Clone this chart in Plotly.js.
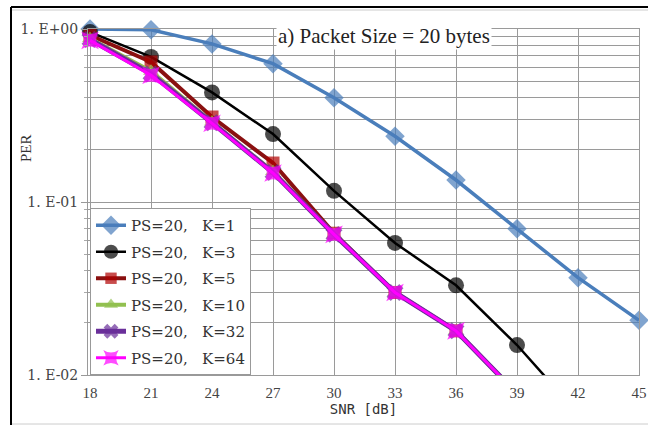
<!DOCTYPE html>
<html><head><meta charset="utf-8">
<script src="https://cdn.plot.ly/plotly-3.0.1.min.js"></script>
<style>html,body{margin:0;padding:0;background:#fff;}#chart{width:648px;height:425px;}</style>
</head><body><div id="chart"></div>
<script>
const snr = [18,21,24,27,30,33,36,39,42,45];
const perK1 = [1.0,0.99,0.82,0.63,0.40,0.24,0.134,0.070,0.0365,0.0207];
const perK3 = [0.96,0.69,0.43,0.247,0.116,0.058,0.033,0.0149,0.006];
const perK5 = [0.92,0.645,0.31,0.168,0.066,0.030,0.018,0.0078];
const perK10 = [0.88,0.57,0.29,0.15,0.065,0.030,0.018,0.0078];
const perK32 = [0.87,0.55,0.287,0.148,0.065,0.030,0.018,0.0078];
const perK64 = [0.86,0.54,0.285,0.147,0.065,0.030,0.018,0.0078];
const names = ["PS=20,\u00a0\u00a0 K=1","PS=20,\u00a0\u00a0 K=3","PS=20,\u00a0\u00a0 K=5","PS=20,\u00a0\u00a0 K=10","PS=20,\u00a0\u00a0 K=32","PS=20,\u00a0\u00a0 K=64"];
const yTickVals = [0.01,0.1,1];
const yTickText = ["1. E-02","1. E-01","1. E+00"];
const xTickVals = [18,21,24,27,30,33,36,39,42,45];

const W=648,H=425,L=88,R=9,T=29,B=50;
const pw=W-L-R, ph=H-T-B;
function px(x){return (x-L)/pw;}
function py(y){return 1-(y-T)/ph;}
const SERIF='Liberation Serif';
const WSERIF='DejaVu Serif';

function tr(y,name,color,lw,sym,ms,lineColor,i){
  return {x:snr.slice(0,y.length),y:y,name:name,type:'scatter',mode:'lines+markers',
    legendgroup:'g'+i,
    cliponaxis:false,
    line:{color:lineColor||color,width:lw},
    marker:{symbol:sym,color:color,size:y.map(v=>v>=0.01?ms:0),line:{width:0}}};
}
const data=[
  tr(perK1,names[0],'#4a7ebb',3.5,'diamond',15,null,1),
  tr(perK3,names[1],'#000000',2.5,'circle',16,null,2),
  tr(perK5,names[2],'#b00000',4,'square',13,'#8a1010',3),
  tr(perK10,names[3],'#92c050',4,'triangle-up',14,null,4),
  tr(perK32,names[4],'#6a2f9a',5,'x',15,null,5),
  tr(perK64,names[5],'#ff00ff',3,'star-square',16,null,6),
];
const minorVals=[];
[0.01,0.1].forEach(d=>{for(let k=2;k<=9;k++)minorVals.push(d*k);});
const layout={
  width:W,height:H,margin:{l:L,r:R,t:T,b:B},
  paper_bgcolor:'#fff',plot_bgcolor:'#fff',showlegend:true,
  font:{family:SERIF,color:'#333'},
  xaxis:{range:[17.9,45],tickmode:'array',tickvals:xTickVals,ticks:'',ticklabelstandoff:4,
    showgrid:true,gridcolor:'#9a9a9a',gridwidth:1,zeroline:false,
    showline:true,linecolor:'#9a9a9a',mirror:true,
    tickfont:{family:SERIF,size:15,color:'#444'},
    title:{text:'SNR [dB]',font:{family:'DejaVu Sans Mono',size:14,color:'#333'},standoff:4}},
  yaxis:{type:'log',range:[-2,0],tickmode:'array',tickvals:yTickVals,ticktext:yTickText,
    ticks:'outside',ticklen:6,tickcolor:'#999',
    showgrid:true,gridcolor:'#9a9a9a',gridwidth:1,zeroline:false,
    showline:true,linecolor:'#9a9a9a',mirror:true,
    tickfont:{family:WSERIF,size:14,color:'#444'},
    minor:{tickmode:'array',tickvals:minorVals,showgrid:true,gridcolor:'#9a9a9a',gridwidth:1,ticks:'outside',ticklen:3,tickcolor:'#aaa'}},
  legend:{x:px(90),y:py(375),xanchor:'left',yanchor:'bottom',bgcolor:'#fff',bordercolor:'#999',borderwidth:1,
    font:{family:WSERIF,size:15,color:'#333'},tracegroupgap:4,itemwidth:30},
  annotations:[
    {xref:'paper',yref:'paper',x:px(384),y:py(36),xanchor:'center',yanchor:'middle',text:'a) Packet Size = 20 bytes',showarrow:false,
     font:{family:SERIF,size:21,color:'#222'},bgcolor:'#fff',borderpad:1},
    {xref:'paper',yref:'paper',x:px(26),y:py(148),xanchor:'center',yanchor:'middle',text:'PER',textangle:-90,showarrow:false,
     font:{family:'Liberation Sans Narrow',size:15,color:'#333'}}
  ],
  shapes:[
    {type:'line',xref:'paper',yref:'paper',x0:px(11),x1:px(11),y0:py(7),y1:py(425),line:{color:'#000',width:2}},
    {type:'line',xref:'paper',yref:'paper',x0:px(11),x1:px(648),y0:py(7),y1:py(7),line:{color:'#000',width:2}},
    {type:'line',xref:'paper',yref:'paper',x0:px(12),x1:px(648),y0:py(10),y1:py(10),line:{color:'#ccc',width:1}},
    {type:'line',xref:'paper',yref:'paper',x0:px(12),x1:px(648),y0:py(424),y1:py(424),line:{color:'#ccc',width:1}}
  ]
};
Plotly.newPlot('chart',data,layout,{displayModeBar:false,staticPlot:true});
</script></body></html>
